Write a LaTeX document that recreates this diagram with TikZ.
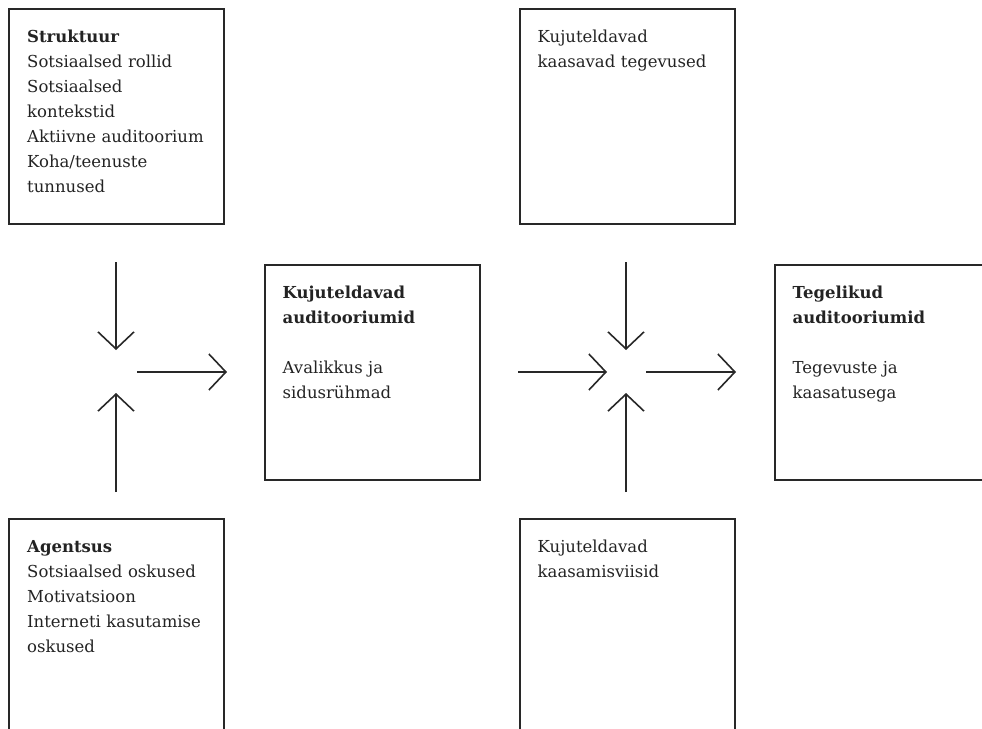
\documentclass[tikz,border=0pt]{standalone}
\usepackage{fontspec}
\setmainfont{DejaVu Serif}
\usepackage{tikz}
\usetikzlibrary{arrows.meta,calc}
\definecolor{framegray}{RGB}{40,40,40}
\definecolor{textgray}{RGB}{35,35,35}

\tikzset{
  panel/.style={draw=framegray,line width=1.7pt,anchor=north west,inner sep=0pt,minimum width=215pt,minimum height=215pt},
  paneltext/.style={anchor=north west,inner sep=0pt,text width=195pt,align=left,text=textgray,font=\fontsize{16.5}{25}\selectfont},
  flow/.style={draw=framegray,line width=1.6pt,-{Straight Barb[length=17pt,width=36pt]}}
}

\begin{document}
\begin{tikzpicture}[x=1pt,y=-1pt]
\useasboundingbox (0,0) rectangle (982,728);
\clip (0,0) rectangle (982,728);

% Boxes
\node[panel] (struktuur) at (8,8) {};
\node[panel] (tegevused) at (519,8) {};
\node[panel] (kujuteldavad) at (264,264) {};
\node[panel] (tegelikud) at (774,264) {};
\node[panel] (agentsus) at (8,518) {};
\node[panel] (viisid) at (519,518) {};

% Box texts
\node[paneltext] (struktuurtext) at ($(struktuur.north west)+(19,16.5)$)
  {\strut\textbf{Struktuur}\\Sotsiaalsed rollid\\Sotsiaalsed\\kontekstid\\Aktiivne auditoorium\\Koha/teenuste\\tunnused};
\node[paneltext] (tegevusedtext) at ($(tegevused.north west)+(18.5,16.5)$)
  {\strut Kujuteldavad\\kaasavad tegevused};
\node[paneltext] (kujuteldavadtext) at ($(kujuteldavad.north west)+(18.5,16.5)$)
  {\strut\textbf{Kujuteldavad}\\\textbf{auditooriumid}\\[25pt]Avalikkus ja\\sidusrühmad};
\node[paneltext] (tegelikudtext) at ($(tegelikud.north west)+(18.5,16.5)$)
  {\strut\textbf{Tegelikud}\\\textbf{auditooriumid}\\[25pt]Tegevuste ja\\kaasatusega};
\node[paneltext] (agentsustext) at ($(agentsus.north west)+(19,16.5)$)
  {\strut\textbf{Agentsus}\\Sotsiaalsed oskused\\Motivatsioon\\Interneti kasutamise\\oskused};
\node[paneltext] (viisidtext) at ($(viisid.north west)+(18.5,16.5)$)
  {\strut Kujuteldavad\\kaasamisviisid};

% Arrow hubs
\coordinate (hubL) at (116,372);
\coordinate (hubR) at (626,372);

% Left arrows
\draw[flow] ($(hubL)+(0,-110)$) -- ($(hubL)+(0,-22)$);
\draw[flow] ($(hubL)+(0,120)$) -- ($(hubL)+(0,21)$);
\draw[flow] ($(hubL)+(21,0)$) -- ($(hubL)+(111,0)$);

% Right arrows
\draw[flow] ($(hubR)+(0,-110)$) -- ($(hubR)+(0,-22)$);
\draw[flow] ($(hubR)+(0,120)$) -- ($(hubR)+(0,21)$);
\draw[flow] ($(hubR)+(-108,0)$) -- ($(hubR)+(-19,0)$);
\draw[flow] ($(hubR)+(20,0)$) -- ($(hubR)+(110,0)$);
\end{tikzpicture}
\end{document}
